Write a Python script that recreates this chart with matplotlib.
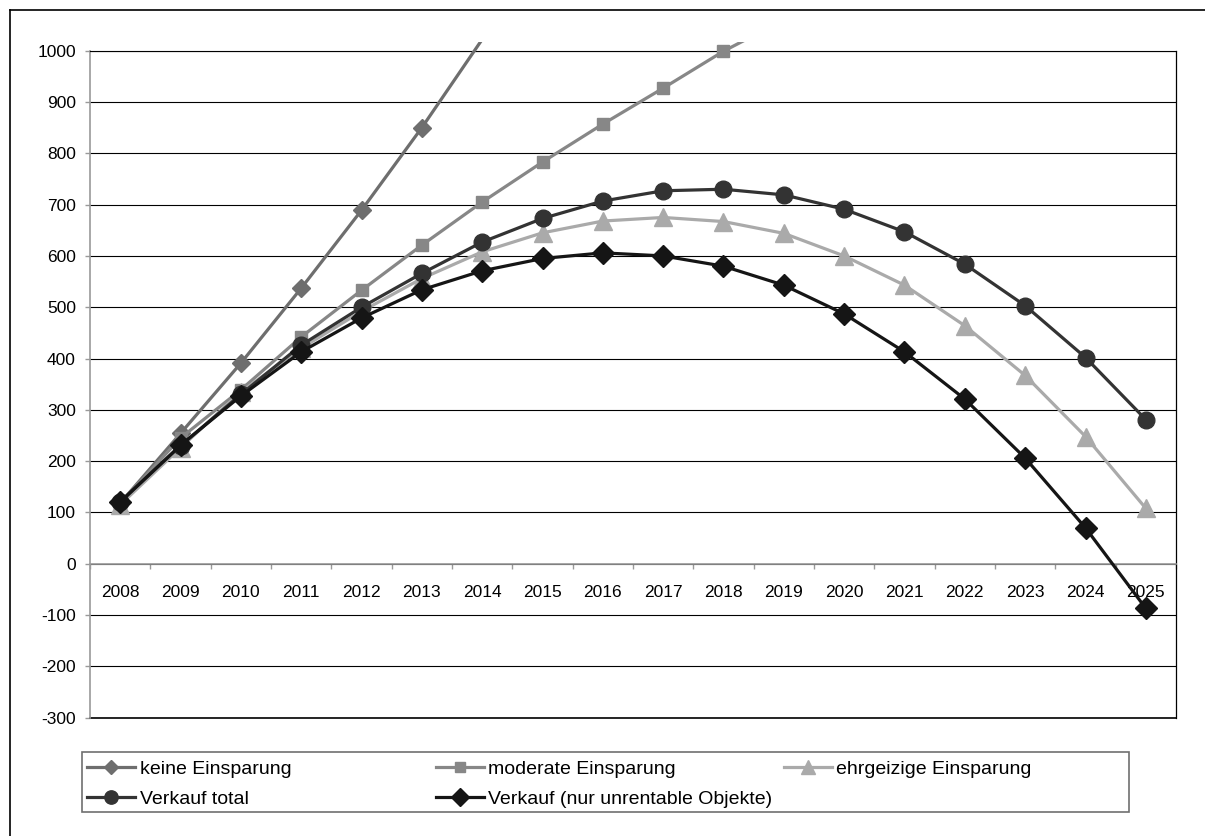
import numpy as np
import matplotlib
matplotlib.use("Agg")
import matplotlib.pyplot as plt
from matplotlib.patches import Rectangle
from matplotlib.lines import Line2D

plt.rcParams['font.family'] = ['Liberation Sans', 'DejaVu Sans']

# ---------------- data ----------------
years = [str(y) for y in range(2008, 2026)]
nan = np.nan
keine_einsparung = [118, 254, 391, 537, 689, 850, 1022, nan, nan, nan, nan, nan, nan, nan, nan, nan, nan, nan]
moderate_einsparung = [118, 245, 339, 442, 533, 621, 705, 783, 857, 927, 999, 1060, nan, nan, nan, nan, nan, nan]
ehrgeizige_einsparung = [115, 226, 335, 420, 492, 556, 608, 645, 668, 675, 667, 644, 600, 543, 464, 367, 248, 108]
verkauf_total = [121, 230, 330, 426, 500, 566, 627, 673, 707, 727, 730, 719, 691, 647, 584, 503, 402, 281]
verkauf_unrentabel = [120, 231, 327, 413, 479, 534, 571, 595, 606, 600, 580, 543, 487, 413, 321, 206, 70, -87]

labels = ["keine Einsparung", "moderate Einsparung", "ehrgeizige Einsparung",
          "Verkauf total", "Verkauf (nur unrentable Objekte)"]
y_ticks = list(range(-300, 1001, 100))

# ---------------- figure ----------------
W, H = 1205, 836
fig = plt.figure(figsize=(W / 100, H / 100), dpi=100)
fig.patch.set_facecolor('white')

def fx(px):
    return px / W

def fy(py):
    return 1 - py / H

ax = fig.add_axes([fx(90), fy(717.7), fx(1176) - fx(90), fy(50.7) - fy(717.7)])
ax.set_xlim(-0.5, len(years) - 0.5)
ax.set_ylim(-300, 1000)
x = np.arange(len(years))

styles = [
    (keine_einsparung, '#6e6e6e', 'D', 9.5),
    (moderate_einsparung, '#878787', 's', 9.0),
    (ehrgeizige_einsparung, '#aaaaaa', '^', 13.0),
    (verkauf_total, '#333333', 'o', 12.0),
    (verkauf_unrentabel, '#151515', 'D', 11.0),
]

clip_rect = Rectangle((-0.5, -300), len(years), 1317, transform=ax.transData)

handles = []
for i, ((vals, color, marker, ms), lab) in enumerate(zip(styles, labels)):
    y = np.array(vals, dtype=float)
    z = 3 + i
    line, = ax.plot(x, y, color=color, lw=2.3, zorder=z, solid_joinstyle='round')
    line.set_clip_path(clip_rect)
    ym = np.where(y <= 1000, y, np.nan)
    ax.plot(x, ym, ls='none', marker=marker, ms=ms,
            color=color, mec=color, clip_on=False, zorder=z)
    handles.append(Line2D([], [], color=color, lw=2.3, marker=marker,
                          ms=ms * 0.8, mec=color))

# y axis
ax.set_yticks(y_ticks)
ax.set_yticklabels([str(v) for v in y_ticks])
ax.tick_params(axis='y', which='major', length=3.6, width=1, color='#999999',
               labelsize=12.5, labelcolor='black', pad=6.5)
ax.yaxis.grid(True, color='black', lw=0.8, zorder=0.5)
ax.set_axisbelow(True)

# x axis at value 0
ax.spines['bottom'].set_position(('data', 0))
ax.spines['bottom'].set_color('#9a9a9a')
ax.spines['bottom'].set_linewidth(1.2)
ax.set_xticks(np.arange(-0.5, len(years), 1.0))
ax.set_xticklabels([])
ax.set_xticks(x, labels=years, minor=True)
ax.tick_params(axis='x', which='major', length=3.6, width=1, color='#9a9a9a', direction='out')
ax.tick_params(axis='x', which='minor', length=0, labelsize=12.5, labelcolor='black', pad=15)

ax.spines['left'].set_color('#9a9a9a')
ax.spines['left'].set_linewidth(1.2)
ax.spines['right'].set_color('black')
ax.spines['right'].set_linewidth(0.9)
ax.spines['top'].set_color('black')
ax.spines['top'].set_linewidth(0.8)
ax.axhline(-300, color='black', lw=1.2, zorder=1, clip_on=False)

# ---------------- legend ----------------
fig.add_artist(Rectangle((fx(82), fy(812)), fx(1129) - fx(82), fy(752) - fy(812),
                         transform=fig.transFigure, fill=False, ec='#6f6f6f', lw=1.2))
cols = [([0, 3], 87), ([1, 4], 436), ([2], 784)]
for idxs, px in cols:
    fig.legend([handles[k] for k in idxs], [labels[k] for k in idxs],
               loc='upper left', bbox_to_anchor=(fx(px), fy(760)), bbox_transform=fig.transFigure,
               frameon=False, fontsize=14, handlelength=2.45, handletextpad=0.25,
               borderpad=0, borderaxespad=0, labelspacing=0.65, ncol=1)

# outer chart border (top and left visible)
fig.add_artist(Line2D([fx(10), 1], [fy(10), fy(10)], transform=fig.transFigure, color='black', lw=1.2))
fig.add_artist(Line2D([fx(10), fx(10)], [fy(10), 0], transform=fig.transFigure, color='black', lw=1.2))

fig.savefig('out.png', dpi=100, facecolor='white')
